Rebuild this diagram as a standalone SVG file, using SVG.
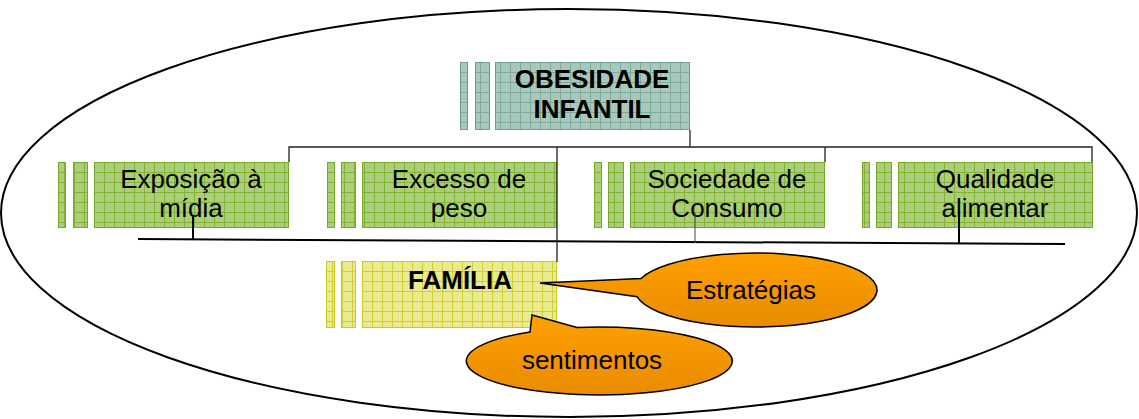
<svg xmlns="http://www.w3.org/2000/svg" width="1139" height="419" viewBox="0 0 1139 419">
<style>
text{font-family:"Liberation Sans",Arial,sans-serif;font-size:26px;fill:#000;text-anchor:middle}
.b{font-weight:bold}
.gray{fill:url(#pGray);stroke:#6f9d8c;stroke-width:1}
.green{fill:url(#pGreen);stroke:#78a828;stroke-width:1}
.yellow{fill:url(#pYellow);stroke:#c9c926;stroke-width:1}
.con{fill:none;stroke:#222;stroke-width:1.3}
.thick{fill:none;stroke:#000;stroke-width:2}
.call{fill:url(#gOrange);stroke:#000;stroke-width:1.5}
</style>
<defs>
<pattern id="pGray" width="10" height="10" patternUnits="userSpaceOnUse" x="0" y="2">
<rect width="10" height="10" fill="#a9c8bd"/><path d="M0 0.5H10M0.5 0V10" stroke="#7eaa9a" stroke-width="1"/></pattern>
<pattern id="pGreen" width="10" height="10" patternUnits="userSpaceOnUse" x="4" y="2">
<rect width="10" height="10" fill="#abcf78"/><path d="M0 0.5H10M0.5 0V10" stroke="#84b236" stroke-width="1"/></pattern>
<pattern id="pYellow" width="10" height="10" patternUnits="userSpaceOnUse" x="2" y="1">
<rect width="10" height="10" fill="#eaeb8e"/><path d="M0 0.5H10M0.5 0V10" stroke="#cfcf35" stroke-width="1"/></pattern>
<linearGradient id="gOrange" x1="0" y1="0" x2="0" y2="1">
<stop offset="0" stop-color="#ffa000"/><stop offset="1" stop-color="#e98c00"/></linearGradient>
</defs>
<ellipse cx="569" cy="213" rx="568" ry="204" fill="none" stroke="#000" stroke-width="2"/>
<g id="obesidade">
<rect class="gray" x="460.5" y="62.5" width="7" height="67"/>
<rect class="gray" x="475.5" y="62.5" width="14" height="67"/>
<rect class="gray" x="495.5" y="62.5" width="194" height="67"/>
<text class="b" x="592" y="88">OBESIDADE</text>
<text class="b" x="592" y="118">INFANTIL</text>
</g>
<g id="exposicao">
<rect class="green" x="58.5" y="162.5" width="7" height="65"/>
<rect class="green" x="73.5" y="162.5" width="14" height="65"/>
<rect class="green" x="94.5" y="162.5" width="194" height="65"/>
<text x="191" y="188">Exposição à</text>
<text x="191" y="217">mídia</text>
</g>
<g id="excesso">
<rect class="green" x="327.5" y="162.5" width="7" height="65"/>
<rect class="green" x="341.5" y="162.5" width="14" height="65"/>
<rect class="green" x="362.5" y="162.5" width="194" height="65"/>
<text x="459" y="188">Excesso de</text>
<text x="459" y="217">peso</text>
</g>
<g id="sociedade">
<rect class="green" x="594.5" y="162.5" width="7" height="65"/>
<rect class="green" x="608.5" y="162.5" width="15" height="65"/>
<rect class="green" x="630.5" y="162.5" width="194" height="65"/>
<text x="727" y="188">Sociedade de</text>
<text x="727" y="217">Consumo</text>
</g>
<g id="qualidade">
<rect class="green" x="862.5" y="162.5" width="7" height="65"/>
<rect class="green" x="876.5" y="162.5" width="15" height="65"/>
<rect class="green" x="898.5" y="162.5" width="194" height="65"/>
<text x="995" y="188">Qualidade</text>
<text x="995" y="217">alimentar</text>
</g>
<g id="familia">
<rect class="yellow" x="326.5" y="261.5" width="8" height="66"/>
<rect class="yellow" x="341.5" y="261.5" width="14" height="66"/>
<rect class="yellow" x="362.5" y="261.5" width="194" height="66"/>
<text class="b" x="460" y="289">FAMÍLIA</text>
</g>
<g id="connectors">
<path class="con" d="M690 130V147M289 162V147H1092V162M557 147V262M825 147V162"/>
<path class="thick" d="M138 239L1065 244"/>
<path class="thick" d="M193 216V240M959 211V243"/>
<path fill="none" stroke="#444" stroke-width="1" d="M695 212V243"/>
</g>
<g id="estrategias">
<path class="call" d="M641 278.5L540 283L637 296.7A121 37 0 1 0 641 278.5Z"/>
<text x="751" y="299">Estratégias</text>
</g>
<g id="sentimentos">
<path class="call" d="M530 332L532 315L577 327.5A133 34 0 1 1 530 332Z"/>
<text x="592" y="369">sentimentos</text>
</g>
</svg>
